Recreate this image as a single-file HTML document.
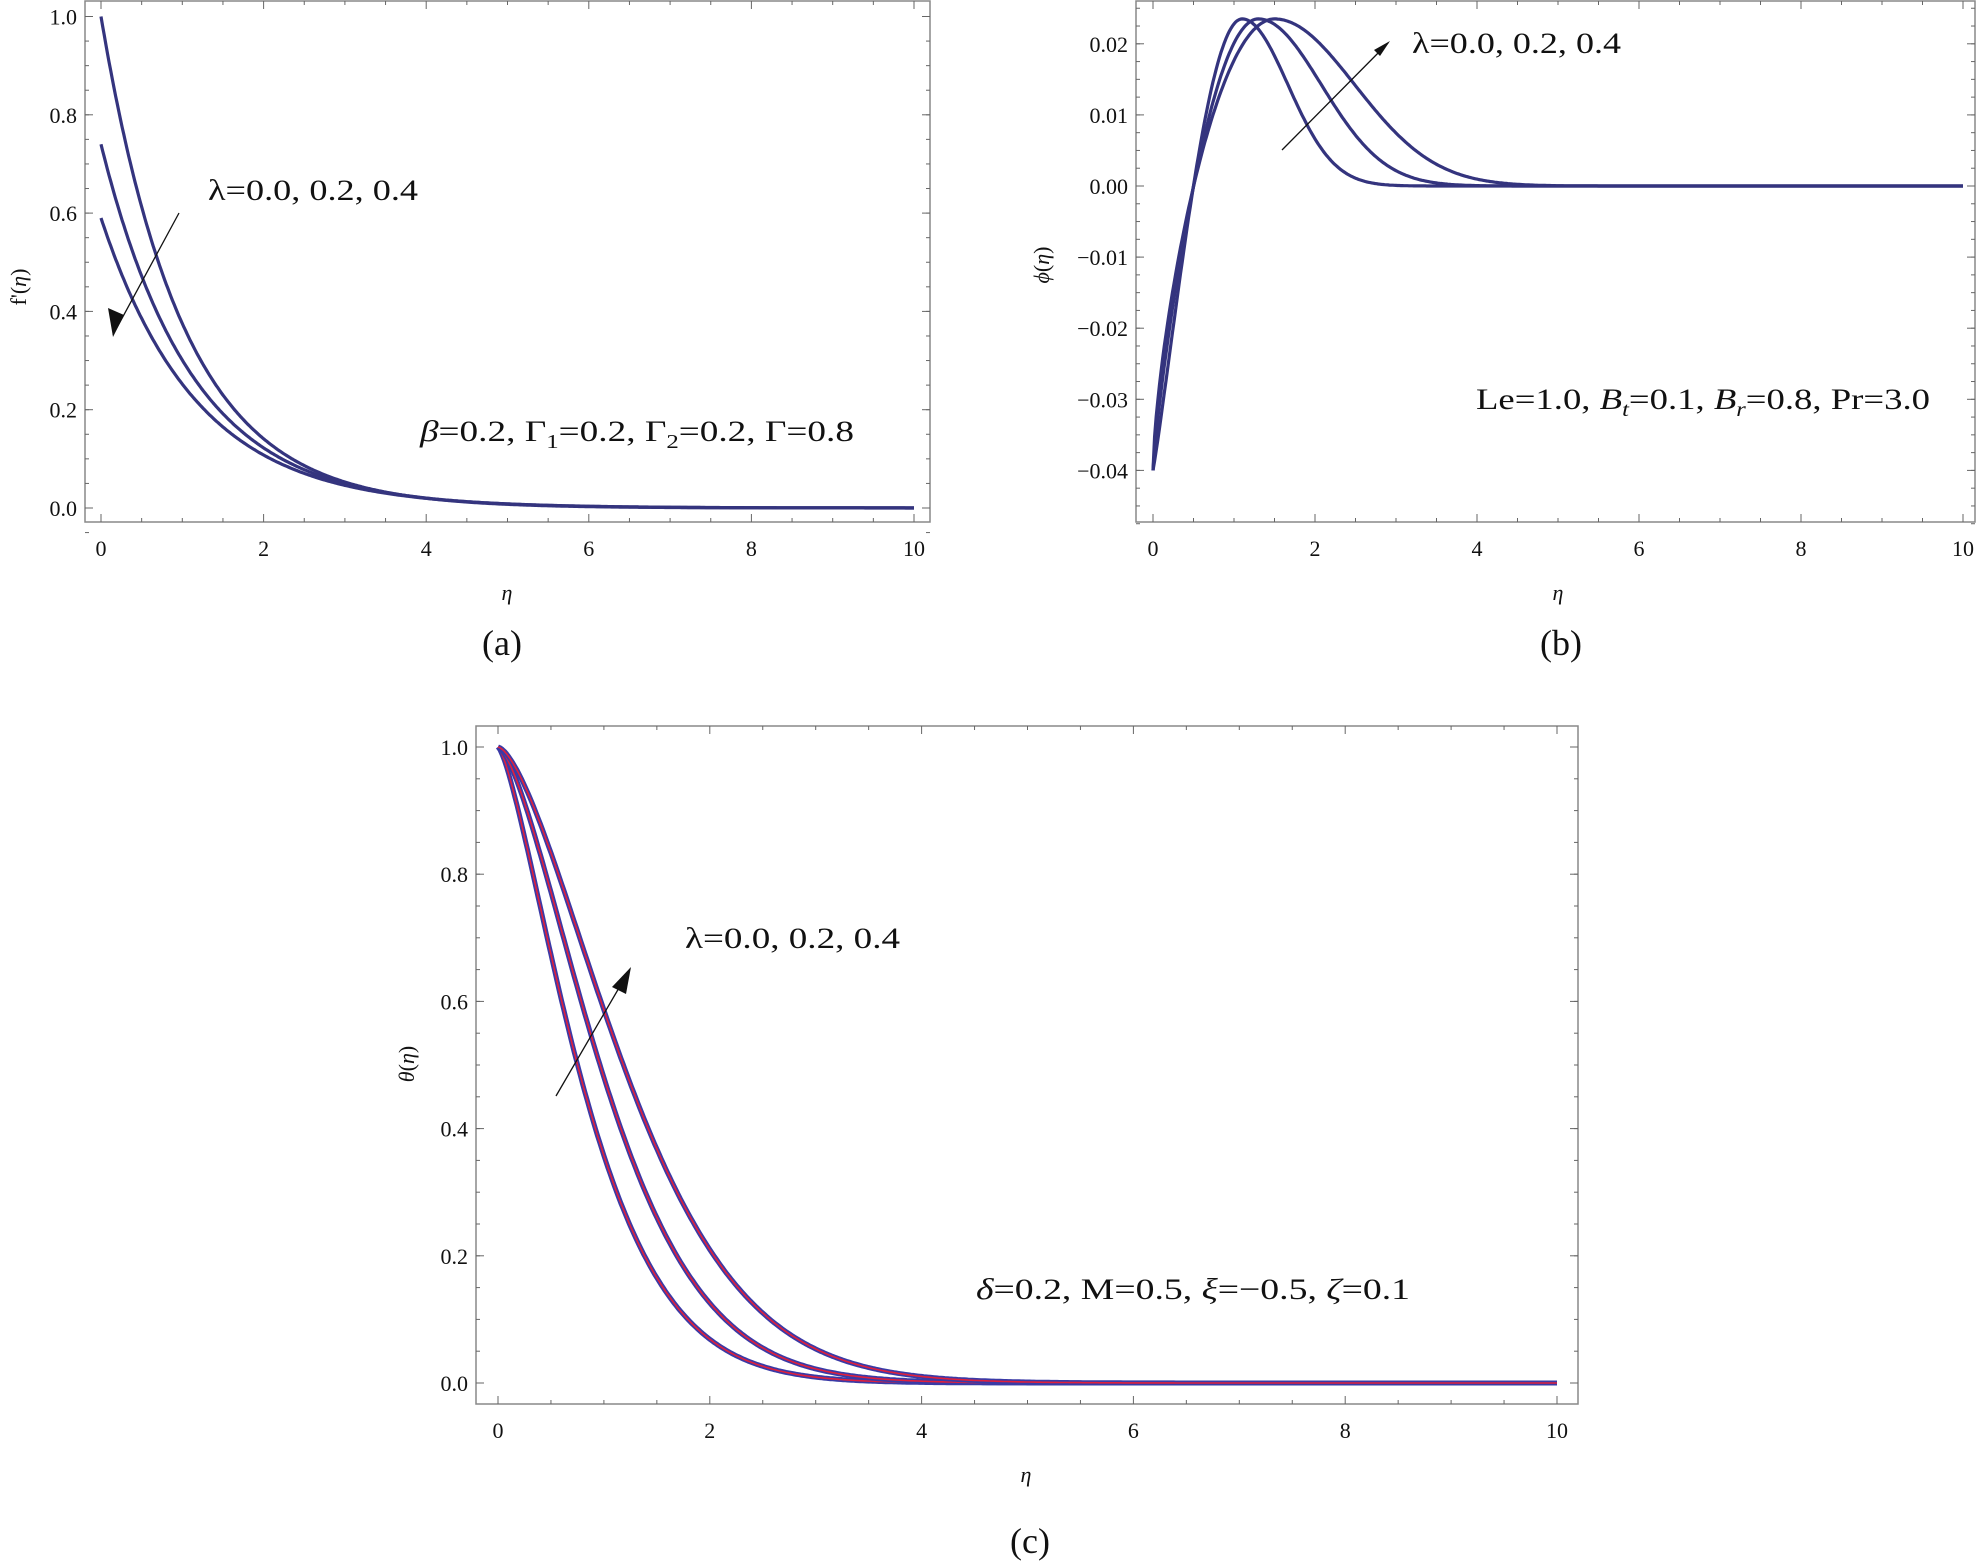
<!DOCTYPE html>
<html><head><meta charset="utf-8"><style>
html,body{margin:0;padding:0;background:#fff;}
svg{display:block;font-family:"Liberation Serif","DejaVu Serif",serif;}
text{font-family:"Liberation Serif","DejaVu Serif",serif;fill:#111;}
.t{font-size:22px;}
.ann{font-size:30px;}
.cap{font-size:36px;}
</style></head><body>
<svg id="s" width="1977" height="1566" viewBox="0 0 1977 1566" xmlns="http://www.w3.org/2000/svg" font-family="Liberation Serif, serif">
<g id="g"></g>
<text class="ann" x="208" y="200" textLength="210" lengthAdjust="spacingAndGlyphs">λ=0.0, 0.2, 0.4</text>
<text class="ann" x="420" y="441" textLength="434" lengthAdjust="spacingAndGlyphs"><tspan font-style="italic">β</tspan>=0.2, Γ<tspan font-size="20" dy="7">1</tspan><tspan dy="-7">=0.2, Γ</tspan><tspan font-size="20" dy="7">2</tspan><tspan dy="-7">=0.2, Γ=0.8</tspan></text>
<text class="ann" x="1412" y="53" textLength="209" lengthAdjust="spacingAndGlyphs">λ=0.0, 0.2, 0.4</text>
<text class="ann" x="1476" y="409" textLength="454" lengthAdjust="spacingAndGlyphs">Le=1.0, <tspan font-style="italic">B</tspan><tspan font-size="20" dy="7" font-style="italic">t</tspan><tspan dy="-7">=0.1, </tspan><tspan font-style="italic">B</tspan><tspan font-size="20" dy="7" font-style="italic">r</tspan><tspan dy="-7">=0.8, Pr=3.0</tspan></text>
<text class="ann" x="685" y="948" textLength="215" lengthAdjust="spacingAndGlyphs">λ=0.0, 0.2, 0.4</text>
<text class="ann" x="976" y="1299" textLength="434" lengthAdjust="spacingAndGlyphs"><tspan font-style="italic">δ</tspan>=0.2, M=0.5, <tspan font-style="italic">ξ</tspan>=−0.5, <tspan font-style="italic">ζ</tspan>=0.1</text>
<line x1="179" y1="213" x2="113" y2="335" stroke="#111" stroke-width="1.3"/>
<path d="M113,337 L108,308 L124,315 z" fill="#111"/>
<line x1="1282" y1="150" x2="1388" y2="43" stroke="#111" stroke-width="1.3"/>
<path d="M1390,41 L1380,56 L1374,50 z" fill="#111"/>
<line x1="556" y1="1096" x2="630" y2="969" stroke="#111" stroke-width="1.3"/>
<path d="M631,967 L626,994 L612,987 z" fill="#111"/>
<text class="t" font-style="italic" x="507" y="600" text-anchor="middle">η</text>
<text class="t" font-style="italic" x="1558" y="600" text-anchor="middle">η</text>
<text class="t" font-style="italic" x="1026" y="1482" text-anchor="middle">η</text>
<text class="t" x="0" y="0" text-anchor="middle" transform="translate(26,287) rotate(-90)">f'(<tspan font-style="italic">η</tspan>)</text>
<text class="t" x="0" y="0" text-anchor="middle" transform="translate(1049,265) rotate(-90)"><tspan font-style="italic">ϕ</tspan>(<tspan font-style="italic">η</tspan>)</text>
<text class="t" x="0" y="0" text-anchor="middle" transform="translate(414,1064) rotate(-90)"><tspan font-style="italic">θ</tspan>(<tspan font-style="italic">η</tspan>)</text>
<text class="cap" x="502" y="655" text-anchor="middle">(a)</text>
<text class="cap" x="1561" y="655" text-anchor="middle">(b)</text>
<text class="cap" x="1030" y="1553" text-anchor="middle">(c)</text>
</svg>
<script>
var g=document.getElementById('g');var NS="http://www.w3.org/2000/svg";
function el(t,a,txt){var e=document.createElementNS(NS,t);for(var k in a)e.setAttribute(k,a[k]);if(t==='text')e.setAttribute('font-family','Liberation Serif, DejaVu Serif, serif');if(txt!==undefined)e.textContent=txt;g.appendChild(e);return e;}
function panel(P){
 el('rect',{x:P.L,y:P.T,width:P.R-P.L,height:P.B-P.T,fill:'none',stroke:'#888','stroke-width':1.5});
 var X=function(v){return P.x0+v*P.xs;},Y=function(v){return P.y0-v*P.ys;};
 for(var i=0;i<=20;i++){var v=i*0.5,x=X(v),maj=(i%4==0),l=maj?8:4;
  el('line',{x1:x,y1:P.B,x2:x,y2:P.B-l,stroke:'#666','stroke-width':1});
  el('line',{x1:x,y1:P.T,x2:x,y2:P.T+l,stroke:'#666','stroke-width':1});
  if(maj)el('text',{'class':'t',x:x,y:P.B+34,'text-anchor':'middle'},String(v));}
 for(var j=0;j<P.yt.length;j++){var v=P.yt[j],y=Y(v),l=4;
  el('line',{x1:P.L,y1:y,x2:P.L+l,y2:y,stroke:'#666','stroke-width':1});
  el('line',{x1:P.R,y1:y,x2:P.R-l,y2:y,stroke:'#666','stroke-width':1});}
 P.f.forEach(function(fn){var d='';for(var k=0;k<=500;k++){var e=k*10/500;d+=(k?'L':'M')+X(e).toFixed(1)+','+Y(fn(e)).toFixed(1);}
  el('path',{d:d,fill:'none',stroke:P.c,'stroke-width':P.w,'stroke-linejoin':'round'});
  if(P.c2)el('path',{d:d,fill:'none',stroke:P.c2,'stroke-width':1.6});});
}
function rng(a,b,s){var r=[];for(var v=a;v<=b+1e-9;v+=s)r.push(+v.toFixed(5));return r;}
function fmtn(d){return function(v){var s=Math.abs(v).toFixed(d);return (v<-1e-9?'\u2212':'')+s;};}
panel({L:85,R:930,T:1,B:522,x0:101,xs:81.3,y0:508,ys:491.5,yt:rng(-0.05,1.0,0.05),c:'#34347e',w:3.2,
 f:[function(e){return Math.exp(-0.98*e);},function(e){return 0.74*Math.exp(-0.9*e);},function(e){return 0.59*Math.exp(-0.85*e);}]});
function bump(p,w,q){return function(e){if(e<p){var t=Math.sin(Math.PI/2*e/p);return -0.04+0.0635*Math.pow(t,q);}return 0.0235*Math.exp(-Math.pow((e-p)/w,2));};}
panel({L:1136,R:1975,T:1,B:522,x0:1153,xs:81,y0:186,ys:7110,yt:rng(-0.0475,0.025,0.0025),
 c:'#34347e',w:3.2,f:[bump(1.1,0.8,1.09),bump(1.3,1.1,0.82),bump(1.5,1.4,0.67)]});
panel({L:476,R:1578,T:726,B:1404,x0:498,xs:105.9,y0:1383,ys:636,yt:rng(0,1.0,0.05),
 c:'#3a3aa6',w:5,c2:'#e0203c',
 f:[function(e){return Math.exp(-Math.pow(e/0.98,1.38));},function(e){return Math.exp(-Math.pow(e/1.23,1.5));},function(e){return Math.exp(-Math.pow(e/1.5,1.55));}]});
function majors(L,R,y0,ys,vals,fmt){vals.forEach(function(v){var y=y0-v*ys;
 el('line',{x1:L,y1:y,x2:L+8,y2:y,stroke:'#666','stroke-width':1});el('line',{x1:R,y1:y,x2:R-8,y2:y,stroke:'#666','stroke-width':1});
 el('text',{'class':'t',x:L-8,y:y+8,'text-anchor':'end'},fmt(v));});}
majors(85,930,508,491.5,[0,0.2,0.4,0.6,0.8,1.0],fmtn(1));
majors(1136,1975,186,7110,[-0.04,-0.03,-0.02,-0.01,0,0.01,0.02],fmtn(2));
majors(476,1578,1383,636,[0,0.2,0.4,0.6,0.8,1.0],fmtn(1));
</script>
</body></html>
